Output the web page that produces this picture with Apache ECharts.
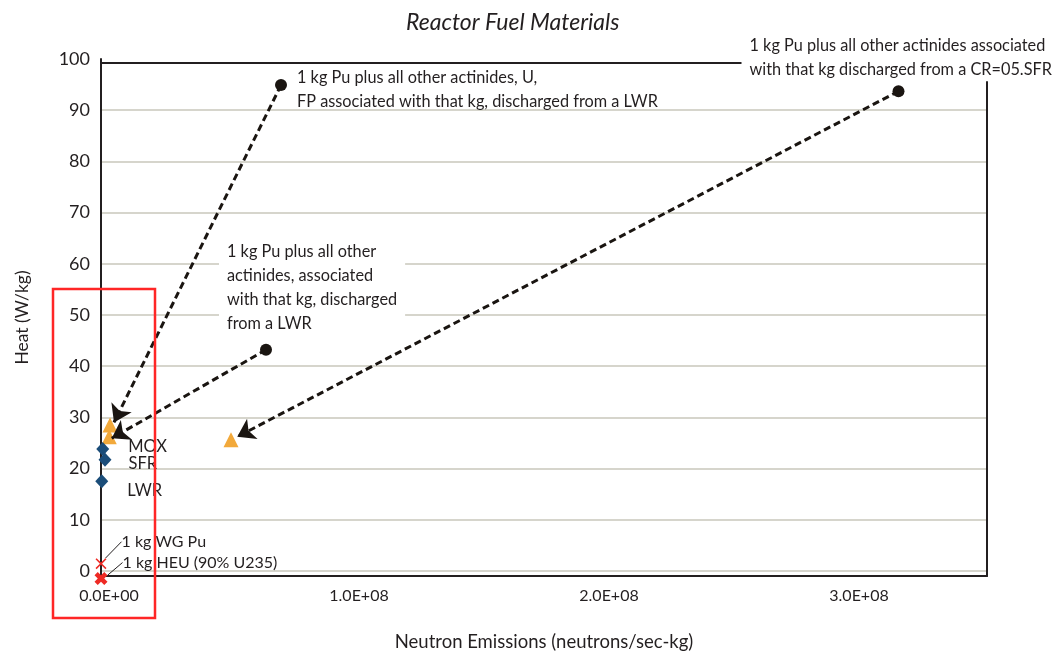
<!DOCTYPE html>
<html>
<head>
<meta charset="utf-8">
<script src="https://cdn.jsdelivr.net/npm/echarts@6/dist/echarts.min.js"></script>
<style>
  html, body { margin: 0; padding: 0; background: #ffffff; }
  #chart { width: 1059px; height: 658px; }
</style>
</head>
<body>
<div id="chart"></div>
<script>
// ---------------- DATA ----------------
const xTickValues = [0, 1e8, 2e8, 3e8];

// Reference materials (red X markers)
const refNames = ['1 kg WG Pu', '1 kg HEU (90% U235)'];
const refNeutrons = [0, 0];
const refHeat = [1.4, -1.5];

// Reactor fuels (blue diamonds)
const fuelNames = ['MOX', 'SFR', 'LWR'];
const fuelNeutrons = [7e5, 1.6e6, 3e5];
const fuelHeat = [23.8, 21.7, 17.5];

// 1 kg Pu plus other actinides (orange triangles)
const puNeutrons = [3.6e6, 3.3e6, 5.2e7];
const puHeat = [28.5, 26.2, 25.6];

// Annotation points (black circles), each pointing to the matching triangle
const noteTexts = [
  '1 kg Pu plus all other actinides, U,\nFP associated with that kg, discharged from a LWR',
  '1 kg Pu plus all other\nactinides, associated\nwith that kg, discharged\nfrom a LWR',
  '1 kg Pu plus all other actinides associated\nwith that kg discharged from a CR=05.SFR'
];
const noteNeutrons = [7.2e7, 6.6e7, 3.19e8];
const noteHeat = [94.9, 43.2, 93.7];

// Arrow tips (where each dashed arrow ends, next to its triangle)
const tipNeutrons = [5.2e6, 4.3e6, 5.45e7];
const tipHeat = [29.0, 25.9, 26.2];

// ---------------- STYLE ----------------
const FONT = 'Lato, "Open Sans", sans-serif';
const TXT = '#231f20';

function sciLabel(v) {
  const parts = v.toExponential(1).split('e');
  const sign = parts[1][0];
  const digits = parts[1].slice(1).padStart(2, '0');
  return parts[0] + 'E' + sign + digits;
}

const fuelLabelOffsets = [[0, -2], [-2, 4], [0, 9]];
const refLabelLayouts = [{ dx: 10, dy: -22 }, { dx: 10, dy: -16 }];
const refSymbols = [
  'path://M0,1 L1,0 L5,4 L9,0 L10,1 L6,5 L10,9 L9,10 L5,6 L1,10 L0,9 L4,5 Z',
  'path://M0,2.5 L2.5,0 L5,2.5 L7.5,0 L10,2.5 L7.5,5 L10,7.5 L7.5,10 L5,7.5 L2.5,10 L0,7.5 L2.5,5 Z'
];
const refSizes = [11, 13];
const noteLabelStyles = [
  { position: [22, -13] },
  { position: [-41, -108], backgroundColor: '#ffffff', padding: [4, 8, 4, 8] },
  { position: [-151, -55], backgroundColor: '#ffffff', padding: [3, 8, 0, 8] }
];

const refData = refNames.map((n, i) => ({
  name: n,
  value: [refNeutrons[i], refHeat[i]],
  symbol: refSymbols[i],
  symbolSize: refSizes[i]
}));

const fuelData = fuelNames.map((n, i) => ({
  name: n,
  value: [fuelNeutrons[i], fuelHeat[i]],
  label: { offset: fuelLabelOffsets[i] }
}));

const puData = puNeutrons.map((x, i) => [x, puHeat[i]]);

const noteData = noteTexts.map((t, i) => ({
  name: t,
  value: [noteNeutrons[i], noteHeat[i]],
  label: Object.assign({}, noteLabelStyles[i])
}));

const arrowData = noteTexts.map((t, i) => ({
  coords: [[noteNeutrons[i], noteHeat[i]], [tipNeutrons[i], tipHeat[i]]]
}));

const chart = echarts.init(document.getElementById('chart'), null, { renderer: 'canvas' });

const option = {
  backgroundColor: '#ffffff',
  animation: false,
  textStyle: { fontFamily: FONT, color: TXT },
  title: {
    text: 'Reactor Fuel Materials',
    left: 401,
    top: 6,
    textStyle: { fontFamily: FONT, fontStyle: 'italic', fontWeight: 'normal', fontSize: 23, color: TXT }
  },
  grid: { left: 101, right: 72, top: 59, bottom: 82 },
  xAxis: [
    {
      type: 'value',
      min: 0,
      max: 3.544e8,
      interval: 1e8,
      name: 'Neutron Emissions (neutrons/sec-kg)',
      nameLocation: 'middle',
      nameGap: 57,
      nameTextStyle: { fontFamily: FONT, fontSize: 18.5, color: TXT },
      axisLine: { show: true, onZero: false, lineStyle: { color: TXT, width: 2 } },
      axisTick: { show: false },
      splitLine: { show: false },
      axisLabel: {
        fontFamily: FONT,
        fontSize: 16,
        color: TXT,
        margin: 12,
        padding: [0, 0, 0, 16],
        showMaxLabel: false,
        formatter: function (v) { return xTickValues.indexOf(v) >= 0 ? sciLabel(v) : ''; }
      }
    },
    {
      type: 'value',
      position: 'top',
      offset: -4,
      min: 0,
      max: 3.544e8,
      axisLine: { show: true, onZero: false, lineStyle: { color: TXT, width: 2 } },
      axisTick: { show: false },
      axisLabel: { show: false },
      splitLine: { show: false }
    }
  ],
  yAxis: [
    {
      type: 'value',
      min: -1,
      max: 100,
      splitNumber: 10,
      name: 'Heat (W/kg)',
      nameLocation: 'middle',
      nameGap: 70,
      nameTextStyle: { fontFamily: FONT, fontSize: 17.5, color: TXT },
      axisLine: { show: true, onZero: false, lineStyle: { color: TXT, width: 2 } },
      axisTick: { show: false },
      splitLine: { show: true, showMinLine: false, showMaxLine: false, lineStyle: { color: '#c9c7bb', width: 1.5 } },
      axisLabel: { fontFamily: FONT, fontSize: 18, color: TXT, margin: 11, showMinLabel: false }
    },
    {
      type: 'value',
      position: 'right',
      min: -1,
      max: 100,
      axisLine: { show: true, onZero: false, lineStyle: { color: TXT, width: 2 } },
      axisTick: { show: false },
      axisLabel: { show: false },
      splitLine: { show: false }
    }
  ],
  series: [
    {
      name: 'Pu + actinides',
      type: 'scatter',
      z: 2,
      symbol: 'triangle',
      symbolSize: 15,
      itemStyle: { color: '#f2a93b', opacity: 1 },
      data: puData
    },
    {
      name: 'Arrows',
      type: 'lines',
      coordinateSystem: 'cartesian2d',
      z: 3,
      symbol: ['none', 'arrow'],
      symbolSize: 17,
      lineStyle: { color: '#1a1511', width: 3, type: [7, 4], opacity: 1 },
      data: arrowData
    },
    {
      name: 'Fuels',
      type: 'scatter',
      z: 4,
      symbol: 'diamond',
      symbolSize: [13, 14],
      itemStyle: { color: '#1b4d79', opacity: 1 },
      label: {
        show: true,
        position: 'right',
        distance: 19,
        fontFamily: FONT,
        fontSize: 16.5,
        color: TXT,
        formatter: '{b}'
      },
      data: fuelData
    },
    {
      name: 'Reference',
      type: 'scatter',
      z: 4,
      clip: false,
      itemStyle: { color: '#ee2a24', opacity: 1 },
      label: {
        show: true,
        position: 'right',
        distance: 5,
        fontFamily: FONT,
        fontSize: 16,
        color: TXT,
        formatter: '{b}'
      },
      labelLayout: function (params) { return refLabelLayouts[params.dataIndex]; },
      labelLine: { show: true, lineStyle: { color: TXT, width: 1 } },
      data: refData
    },
    {
      name: 'Notes',
      type: 'scatter',
      z: 5,
      symbol: 'circle',
      symbolSize: 12,
      itemStyle: { color: '#1a1511', opacity: 1 },
      label: {
        show: true,
        fontFamily: FONT,
        fontSize: 16.3,
        lineHeight: 24,
        color: TXT,
        align: 'left',
        verticalAlign: 'top',
        formatter: '{b}'
      },
      data: noteData
    }
  ],
  graphic: [
    {
      type: 'rect',
      z: 100,
      shape: { x: 53, y: 289, width: 102, height: 329 },
      style: { fill: 'none', stroke: '#ff2626', lineWidth: 2.5 }
    }
  ]
};

chart.setOption(option);
</script>
</body>
</html>
